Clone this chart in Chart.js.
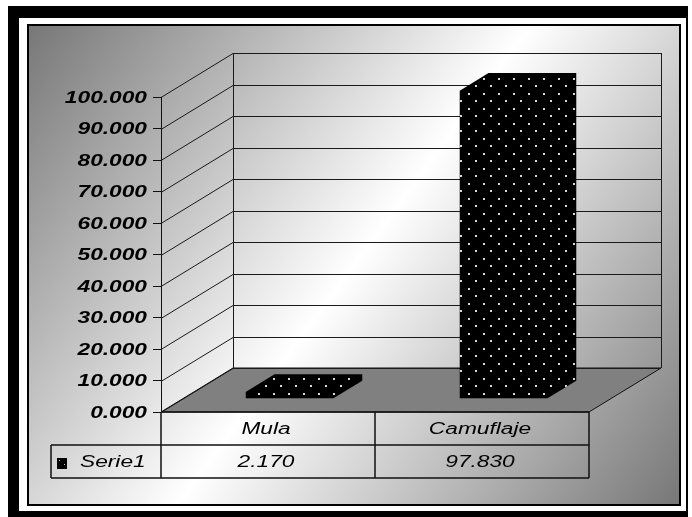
<!DOCTYPE html>
<html>
<head>
<meta charset="utf-8">
<script src="https://cdn.jsdelivr.net/npm/chart.js@4/dist/chart.umd.min.js"></script>
<style>
  body { margin: 0; background: #fff; }
  canvas { display: block; }
</style>
</head>
<body>
<canvas id="chart3d" width="692" height="517"></canvas>
<script>
// data
const categories = ['Mula', 'Camuflaje'];
const seriesName = 'Serie1';
const values = [2.170, 97.830];
const yMin = 0, yMax = 100, yStep = 10;

// 3D look (Excel style column chart)
const DEPTH_X = 72, DEPTH_Y = 44;      // wall depth
const BAR_FRONT = 0.3, BAR_BACK = 0.7;  // bar position inside the depth
const STRETCH = 1.42;                   // excel text is horizontally stretched

function fmt(v) { return v.toFixed(3); }

// dotted fill for the bars
const tile = document.createElement('canvas');
tile.width = 15; tile.height = 15;
const tctx = tile.getContext('2d');
tctx.fillStyle = '#000';
tctx.fillRect(0, 0, 15, 15);
tctx.fillStyle = '#d8d8d8';
tctx.fillRect(3, 3, 2, 2);
tctx.fillRect(10, 10, 2, 2);

function text(ctx, str, x, y, align, font) {
  ctx.save();
  ctx.translate(x, y);
  ctx.scale(STRETCH, 1);
  ctx.font = font;
  ctx.textAlign = align;
  ctx.textBaseline = 'alphabetic';
  ctx.fillStyle = '#000';
  ctx.fillText(str, 0, 0);
  ctx.restore();
}

function poly(ctx, pts) {
  ctx.beginPath();
  ctx.moveTo(pts[0][0], pts[0][1]);
  for (let i = 1; i < pts.length; i++) ctx.lineTo(pts[i][0], pts[i][1]);
  ctx.closePath();
}

const backdrop = {
  id: 'backdrop',
  beforeDraw(chart) {
    const ctx = chart.ctx;
    const y = chart.scales.y, x = chart.scales.x;
    const L = x.left, R = x.right, B = y.getPixelForValue(yMin), T = y.getPixelForValue(yMax);
    ctx.save();
    // frame
    ctx.fillStyle = '#fff';
    ctx.fillRect(0, 0, 692, 517);
    ctx.fillStyle = '#000';
    ctx.fillRect(8, 6, 680, 511);
    ctx.fillStyle = '#fff';
    ctx.fillRect(19, 18, 667, 493);
    const g = ctx.createLinearGradient(28, 25, 680, 505);
    g.addColorStop(0, '#777');
    g.addColorStop(0.5, '#fff');
    g.addColorStop(1, '#777');
    ctx.fillStyle = g;
    ctx.fillRect(28, 25, 652, 480);
    ctx.strokeStyle = '#000';
    ctx.lineWidth = 2;
    ctx.strokeRect(28, 25, 652, 480);

    // floor
    ctx.fillStyle = '#808080';
    poly(ctx, [[L, B], [L + DEPTH_X, B - DEPTH_Y], [R + DEPTH_X, B - DEPTH_Y], [R, B]]);
    ctx.fill();
    ctx.lineWidth = 1;
    ctx.strokeStyle = '#111';
    ctx.stroke();

    // walls and gridlines
    ctx.strokeStyle = '#1a1a1a';
    ctx.beginPath();
    for (let v = yMin; v <= yMax; v += yStep) {
      const py = Math.round(y.getPixelForValue(v)) + 0.5;
      ctx.moveTo(L, py);
      ctx.lineTo(L + DEPTH_X, py - DEPTH_Y);
      ctx.lineTo(R + DEPTH_X, py - DEPTH_Y);
    }
    ctx.moveTo(L + DEPTH_X + 0.5, T - DEPTH_Y);
    ctx.lineTo(L + DEPTH_X + 0.5, B - DEPTH_Y);
    ctx.moveTo(R + DEPTH_X + 0.5, T - DEPTH_Y);
    ctx.lineTo(R + DEPTH_X + 0.5, B - DEPTH_Y);
    ctx.stroke();
    ctx.restore();
  },
  beforeDatasetsDraw(chart) {
    const ctx = chart.ctx;
    const pattern = ctx.createPattern(tile, 'repeat');
    const meta = chart.getDatasetMeta(0);
    ctx.save();
    meta.data.forEach(bar => {
      const p = bar.getProps(['x', 'y', 'base', 'width'], true);
      const fx = BAR_FRONT * DEPTH_X, fy = BAR_FRONT * DEPTH_Y;
      const bx = BAR_BACK * DEPTH_X, by = BAR_BACK * DEPTH_Y;
      const l = p.x - p.width / 2, r = p.x + p.width / 2;
      // outline of front + top + side faces in one shape (no seams)
      const shape = [
        [l + fx, p.base - fy], [l + fx, p.y - fy], [l + bx, p.y - by],
        [r + bx, p.y - by], [r + bx, p.base - by], [r + fx, p.base - fy]
      ];
      ctx.fillStyle = pattern;
      poly(ctx, shape);
      ctx.fill();
    });
    ctx.restore();
    return false;
  },
  afterDraw(chart) {
    const ctx = chart.ctx;
    const y = chart.scales.y, x = chart.scales.x;
    const L = x.left, R = x.right, B = y.getPixelForValue(yMin);
    const rowH = 33, keyL = 51;
    ctx.save();
    // value axis labels
    y.ticks.forEach(t => {
      text(ctx, fmt(t.value), 147, y.getPixelForValue(t.value) + 5.5, 'right', 'bold italic 16px "Liberation Sans", Arial, sans-serif');
    });
    // data table
    ctx.strokeStyle = '#111';
    ctx.lineWidth = 1.5;
    ctx.beginPath();
    ctx.moveTo(L, B); ctx.lineTo(R, B);
    ctx.moveTo(keyL, B + rowH); ctx.lineTo(R, B + rowH);
    ctx.moveTo(keyL, B + 2 * rowH); ctx.lineTo(R, B + 2 * rowH);
    ctx.moveTo(keyL, B + rowH); ctx.lineTo(keyL, B + 2 * rowH);
    ctx.moveTo(L, B); ctx.lineTo(L, B + 2 * rowH);
    ctx.moveTo(R, B); ctx.lineTo(R, B + 2 * rowH);
    for (let i = 1; i < categories.length; i++) {
      const cx = (x.getPixelForValue(i - 1) + x.getPixelForValue(i)) / 2;
      ctx.moveTo(cx, B); ctx.lineTo(cx, B + 2 * rowH);
    }
    ctx.stroke();
    const font = 'italic 16px "Liberation Sans", Arial, sans-serif';
    categories.forEach((c, i) => {
      const cx = x.getPixelForValue(i) - 2;
      text(ctx, c, cx, B + rowH / 2 + 5.5, 'center', font);
      text(ctx, fmt(values[i]), cx, B + rowH * 1.5 + 5.5, 'center', font);
    });
    // legend key
    ctx.fillStyle = '#000';
    ctx.fillRect(57, 458, 10, 11);
    ctx.fillStyle = '#ccc';
    ctx.fillRect(59, 460, 1, 1);
    ctx.fillRect(64, 464, 1, 1);
    text(ctx, seriesName, 80, B + rowH * 1.5 + 5.5, 'left', font);
    ctx.restore();
  }
};

const ctx = document.getElementById('chart3d').getContext('2d');
const chart = new Chart(ctx, {
  type: 'bar',
  data: {
    labels: categories,
    datasets: [{
      label: seriesName,
      data: values,
      backgroundColor: '#000',
      barPercentage: 0.41,
      categoryPercentage: 1
    }]
  },
  options: {
    responsive: false,
    animation: false,
    devicePixelRatio: 1,
    layout: { padding: { left: 0, top: 97, right: 103, bottom: 105 } },
    plugins: {
      legend: { display: false },
      tooltip: { enabled: false }
    },
    scales: {
      x: { display: false },
      y: {
        min: yMin,
        max: yMax,
        ticks: { stepSize: yStep, display: false, padding: 0 },
        grid: { drawOnChartArea: false, drawTicks: true, tickLength: 8, color: '#111' },
        border: { display: true, color: '#111', width: 1 },
        afterFit: s => { s.width = 161; }
      }
    }
  },
  plugins: [backdrop]
});
</script>
</body>
</html>
